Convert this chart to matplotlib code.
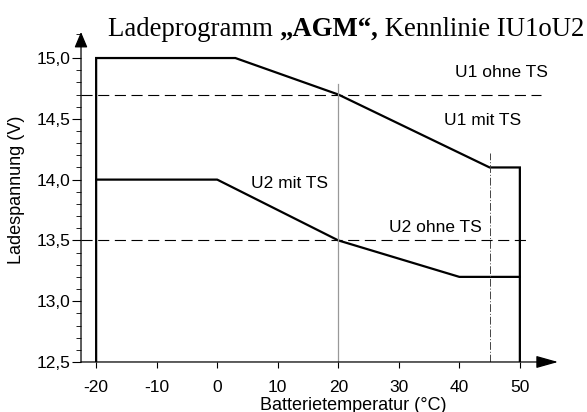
import numpy as np
import matplotlib.pyplot as plt
from matplotlib.ticker import FixedLocator, MultipleLocator

# Kennlinie U1 / U2 (mit Temperatursensor)
u1_temp = [-20, -20, 3, 20, 45, 50, 50]
u1_volt = [12.5, 15.0, 15.0, 14.7, 14.1, 14.1, 12.5]
u2_temp = [-20, 0, 20, 40, 50]
u2_volt = [14.0, 14.0, 13.5, 13.2, 13.2]
u1_ohne_ts = 14.7
u2_ohne_ts = 13.5

x_ticks = [-20, -10, 0, 10, 20, 30, 40, 50]
y_ticks = [12.5, 13.0, 13.5, 14.0, 14.5, 15.0]
y_labels = ['12,5', '13,0', '13,5', '14,0', '14,5', '15,0']

plt.rcParams['font.family'] = ['Liberation Sans', 'DejaVu Sans']

fig = plt.figure(figsize=(5.87, 4.12), dpi=100)
ax = fig.add_axes([0.138, 0.1214, 0.8126, 0.8009])
ax.set_xlim(-22.5, 56.3)
ax.set_ylim(12.5, 15.214)

ax.plot(u1_temp, u1_volt, color='black', lw=1.6, solid_joinstyle='miter')
ax.plot(u2_temp, u2_volt, color='black', lw=1.6)
ax.plot([-22.5, 53.5], [u1_ohne_ts, u1_ohne_ts], color='black', lw=0.8, dashes=(10, 5))
ax.plot([-22.5, 51.4], [u2_ohne_ts, u2_ohne_ts], color='black', lw=0.8, dashes=(10, 5))
ax.plot([20, 20], [12.5, 14.79], color='#999999', lw=0.9)
ax.plot([45, 45], [12.5, 14.22], color='#444444', lw=0.7, dashes=(8, 2, 1, 2))

ax.text(47, 14.88, 'U1 ohne TS', ha='center', va='center', fontsize=12.5)
ax.text(43.9, 14.49, 'U1 mit TS', ha='center', va='center', fontsize=12.5)
ax.text(12, 13.97, 'U2 mit TS', ha='center', va='center', fontsize=12.5)
ax.text(36, 13.61, 'U2 ohne TS', ha='center', va='center', fontsize=12.5)

for s in ax.spines.values():
    s.set_visible(False)
ax.annotate('', xy=(1, 0), xytext=(0, 0), xycoords='axes fraction',
            arrowprops=dict(arrowstyle='-|>,head_length=1.35,head_width=0.38',
                            color='black', lw=0.9, shrinkA=0, shrinkB=0))
ax.annotate('', xy=(0, 1), xytext=(0, 0), xycoords='axes fraction',
            arrowprops=dict(arrowstyle='-|>,head_length=0.95,head_width=0.4',
                            color='black', lw=0.9, shrinkA=0, shrinkB=0))

ax.xaxis.set_major_locator(FixedLocator(x_ticks))
ax.set_xticklabels([str(t) for t in x_ticks])
ax.yaxis.set_major_locator(FixedLocator(y_ticks))
ax.set_yticklabels(y_labels)
ax.yaxis.set_minor_locator(MultipleLocator(0.1))
ax.tick_params(axis='x', direction='out', length=4, width=0.8, labelsize=12.5, pad=9)
ax.tick_params(axis='y', which='major', direction='out', length=6.5, width=0.8, labelsize=12.5, pad=1)
ax.tick_params(axis='y', which='minor', direction='out', length=3.5, width=0.6)

fig.text(353 / 587, 1 - 405 / 412, 'Batterietemperatur (°C)', ha='center', va='center', fontsize=13)
fig.text(17 / 587, 1 - 190 / 412, 'Ladespannung (V)', ha='center', va='center',
         rotation=90, fontsize=13)

t1 = fig.text(108 / 587, 1 - 36 / 412, 'Ladeprogramm ', ha='left', va='baseline',
              family='Liberation Serif', fontsize=19.3)
t2 = ax.annotate('\u201eAGM\u201c,', xy=(1, 0), xycoords=t1, ha='left', va='bottom',
                 family='Liberation Serif', fontsize=19.3, weight='bold')
t3 = ax.annotate(' Kennlinie IU1oU2', xy=(1, 0), xycoords=t2, ha='left', va='bottom',
                 family='Liberation Serif', fontsize=19.3)

fig.savefig('out.png', dpi=100)
